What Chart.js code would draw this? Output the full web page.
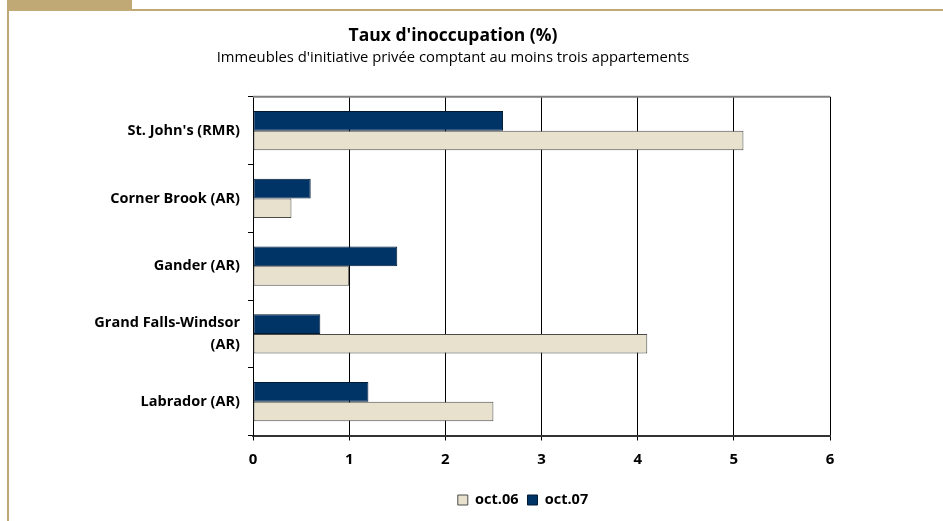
<!DOCTYPE html>
<html>
<head>
<meta charset="utf-8">
<script src="https://cdn.jsdelivr.net/npm/chart.js@4"></script>
<style>
html,body{margin:0;padding:0;background:#fff;}
#wrap{position:relative;width:943px;height:521px;overflow:hidden;}
#c{position:absolute;left:0;top:0;}
.deco{position:absolute;background:#c0a974;}
</style>
</head>
<body>
<div id="wrap">
<div class="deco" style="left:7px;top:0;width:125px;height:11px;"></div>
<div class="deco" style="left:132px;top:9px;width:811px;height:2px;"></div>
<div class="deco" style="left:7px;top:0;width:2px;height:521px;"></div>
<canvas id="c" width="943" height="521"></canvas>
</div>
<script>
const categories = [["St. John's (RMR)"], ["Corner Brook (AR)"], ["Gander (AR)"], ["Grand Falls-Windsor", "(AR)"], ["Labrador (AR)"]];
const oct06 = [5.1, 0.4, 1.0, 4.1, 2.5];
const oct07 = [2.6, 0.6, 1.5, 0.7, 1.2];
const xTicks = [0, 1, 2, 3, 4, 5, 6];

const FONT = "'Open Sans', 'DejaVu Sans', sans-serif";

const legendShift = {
  id: 'legendShift',
  afterLayout(chart) {
    const L = chart.legend;
    if (!L) return;
    const cx = (L.left + L.right) / 2;
    const dx = 523 - cx;
    L.left += dx; L.right += dx;
    const lbl = L.options.labels;
    const itemH = Math.max(lbl.boxHeight, lbl.font.size);
    const cy = L.top + lbl.padding + itemH / 2;
    const dy = 500 - cy;
    L.top += dy; L.bottom += dy;
  }
};

const topBorder = {
  id: 'topBorder',
  afterDraw(chart) {
    const a = chart.chartArea, ctx = chart.ctx;
    ctx.save();
    ctx.strokeStyle = '#808080'; ctx.lineWidth = 2;
    ctx.beginPath(); ctx.moveTo(a.left, a.top); ctx.lineTo(a.right, a.top); ctx.stroke();
    ctx.restore();
  }
};

new Chart(document.getElementById('c'), {
  type: 'bar',
  data: {
    labels: categories,
    datasets: [
      { label: 'oct.07', data: oct07, backgroundColor: '#003366', borderColor: '#001a33', borderWidth: 1, borderSkipped: false },
      { label: 'oct.06', data: oct06, backgroundColor: '#e7e1cd', borderColor: '#4a4a4a', borderWidth: 1, borderSkipped: false }
    ]
  },
  options: {
    indexAxis: 'y',
    responsive: false,
    animation: false,
    devicePixelRatio: 1,
    datasets: { bar: { categoryPercentage: 0.58, barPercentage: 1.0 } },
    layout: { padding: { left: 76, right: 113, top: 0, bottom: 9 } },
    plugins: {
      title: { display: true, text: "Taux d'inoccupation (%)", color: '#000', font: { family: FONT, size: 17.5, weight: 'bold', lineHeight: 1.2 }, padding: { top: 26, bottom: 2 } },
      subtitle: { display: true, text: "Immeubles d'initiative privée comptant au moins trois appartements", color: '#000', font: { family: FONT, size: 14.8, lineHeight: 1.2 }, padding: { top: 0, bottom: 30 } },
      legend: {
        position: 'bottom', reverse: true,
        labels: { boxWidth: 10, boxHeight: 10, color: '#000', padding: 9, font: { family: FONT, size: 14.5, weight: 'bold' } }
      },
      tooltip: { enabled: false }
    },
    scales: {
      x: {
        min: 0, max: 6,
        afterBuildTicks: (s) => { s.ticks = xTicks.map(v => ({ value: v })); },
        grid: { color: '#000', lineWidth: 1, tickLength: 5, drawTicks: true },
        border: { color: '#333', width: 2 },
        ticks: { color: '#000', padding: 10, font: { family: FONT, size: 15, weight: 'bold' } }
      },
      y: {
        afterFit: (s) => { s.width = 177; },
        grid: { drawOnChartArea: false, color: '#000', tickLength: 5, offset: true },
        border: { color: '#000', width: 1 },
        ticks: { color: '#000', padding: 8, font: { family: FONT, size: 14.5, weight: 'bold', lineHeight: 1.45 } }
      }
    }
  },
  plugins: [legendShift, topBorder]
});
</script>
</body>
</html>
